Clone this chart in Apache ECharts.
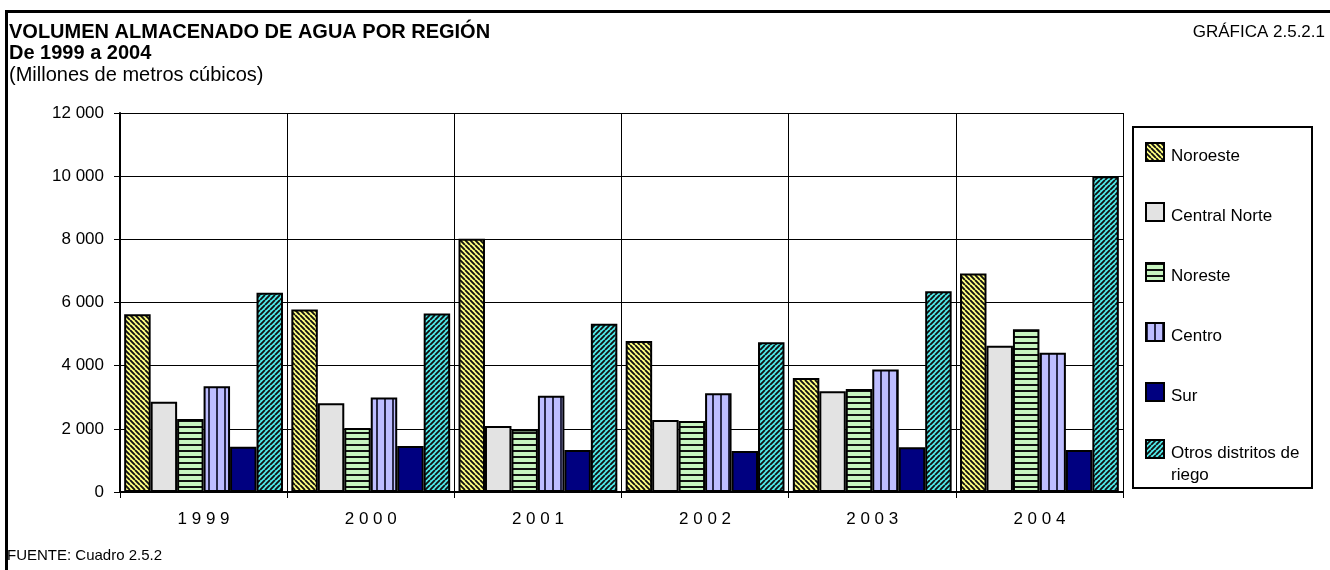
<!DOCTYPE html>
<html>
<head>
<meta charset="utf-8">
<script src="https://cdn.jsdelivr.net/npm/echarts@6/dist/echarts.min.js"></script>
<style>
html,body{margin:0;padding:0;background:#fff;}
#chart{width:1330px;height:570px;}
</style>
</head>
<body>
<div id="chart"></div>
<script>
// ---- data ----
const years = ['1999', '2000', '2001', '2002', '2003', '2004'];
const seriesNames = ['Noroeste', 'Central Norte', 'Noreste', 'Centro', 'Sur', 'Otros distritos de riego'];
const noroeste     = [5630, 5780, 8020, 4780, 3610, 6920];
const centralNorte = [2860, 2810, 2090, 2280, 3190, 4630];
const noreste      = [2310, 2030, 1980, 2245, 3265, 5150];
const centro       = [3350, 2995, 3050, 3125, 3880, 4410];
const sur          = [1430, 1455, 1330, 1300, 1415, 1330];
const otros        = [6310, 5655, 5330, 4745, 6355, 10000];
const yTicks = [0, 2000, 4000, 6000, 8000, 10000, 12000];

// ---- patterns ----
function diag(bg, fg, dir, size, lw) {
  const c = document.createElement('canvas');
  c.width = size; c.height = size;
  const g = c.getContext('2d');
  g.fillStyle = bg; g.fillRect(0, 0, size, size);
  g.strokeStyle = fg; g.lineWidth = lw;
  g.beginPath();
  for (let k = -1; k <= 1; k++) {
    if (dir > 0) { g.moveTo(k * size, 0); g.lineTo(k * size + size, size); }
    else { g.moveTo(k * size, size); g.lineTo(k * size + size, 0); }
  }
  g.stroke();
  return { image: c, repeat: 'repeat' };
}
function hstripe(bg, fg, period, band) {
  const c = document.createElement('canvas');
  c.width = 4; c.height = period;
  const g = c.getContext('2d');
  g.fillStyle = bg; g.fillRect(0, 0, 4, period);
  g.fillStyle = fg; g.fillRect(0, 0, 4, band);
  return { image: c, repeat: 'repeat' };
}
function vstripe(bg, fg, period, band) {
  const c = document.createElement('canvas');
  c.width = period; c.height = 4;
  const g = c.getContext('2d');
  g.fillStyle = bg; g.fillRect(0, 0, period, 4);
  g.fillStyle = fg; g.fillRect(0, 0, band, 4);
  return { image: c, repeat: 'repeat' };
}

const fills = [
  diag('#FFFF80', '#111111', 1, 5, 1.9),
  '#E3E3E3',
  hstripe('#C8F5C0', '#111111', 6, 2),
  vstripe('#BDBDFF', '#2a2a4a', 8, 2),
  '#000080',
  diag('#4FEAEA', '#111111', -1, 5, 1.9)
];
const values = [noroeste, centralNorte, noreste, centro, sur, otros];

const FONT = '"Liberation Sans", Arial, sans-serif';

const chart = echarts.init(document.getElementById('chart'), null, { renderer: 'canvas' });

const series = seriesNames.map((name, i) => ({
  name: name,
  type: 'bar',
  data: values[i],
  barGap: '0%',
  barCategoryGap: '5%',
  itemStyle: { color: fills[i], borderColor: '#000', borderWidth: 2 },
  emphasis: { disabled: true }
}));

const legendRich = {
  a: { fontFamily: FONT, fontSize: 17, color: '#000', lineHeight: 22, padding: [0, 0, 0, 2] },
  s8: { fontSize: 1, height: 8, lineHeight: 8 },
  s30: { fontSize: 1, height: 30, lineHeight: 30 }
};
const legendBase = {
  orient: 'vertical',
  left: 1145,
  padding: 0,
  itemWidth: 18,
  itemHeight: 18,
  icon: 'rect',
  selectedMode: false
};

const option = {
  animation: false,
  backgroundColor: '#fff',
  textStyle: { fontFamily: FONT, color: '#000' },
  title: [
    { text: 'VOLUMEN ALMACENADO DE AGUA POR REGIÓN', left: 9, top: 22, padding: 0,
      textStyle: { fontFamily: FONT, fontSize: 20, fontWeight: 'bold', color: '#000' } },
    { text: 'De 1999 a 2004', left: 9, top: 43, padding: 0,
      textStyle: { fontFamily: FONT, fontSize: 20, fontWeight: 'bold', color: '#000' } },
    { text: '(Millones de metros cúbicos)', left: 9, top: 65, padding: 0,
      textStyle: { fontFamily: FONT, fontSize: 20, fontWeight: 'normal', color: '#000' } },
    { text: 'GRÁFICA 2.5.2.1', right: 5, top: 24, padding: 0,
      textStyle: { fontFamily: FONT, fontSize: 17, fontWeight: 'normal', color: '#000' } },
    { text: 'FUENTE: Cuadro 2.5.2', left: 7, top: 548, padding: 0,
      textStyle: { fontFamily: FONT, fontSize: 15, fontWeight: 'normal', color: '#000' } }
  ],
  legend: [
    Object.assign({}, legendBase, {
      top: 137,
      itemGap: 32.5,
      textStyle: { fontFamily: FONT, fontSize: 17, color: '#000', rich: legendRich },
      data: seriesNames.slice(0, 5),
      formatter: n => '{s8| }\n{a|' + n + '}'
    }),
    Object.assign({}, legendBase, {
      top: 412,
      itemGap: 0,
      textStyle: { fontFamily: FONT, fontSize: 17, color: '#000', rich: legendRich },
      data: seriesNames.slice(5),
      formatter: n => '{s30| }\n{a|' + n.replace(' riego', '}\n{a|riego') + '}'
    })
  ],
  grid: { left: 120, right: 207, top: 113, bottom: 78, containLabel: false },
  xAxis: {
    type: 'category',
    data: years,
    boundaryGap: true,
    axisLine: { show: true, lineStyle: { color: '#000', width: 2 } },
    axisTick: { show: true, length: 6, lineStyle: { color: '#000', width: 1 } },
    axisLabel: { margin: 19, fontFamily: FONT, fontSize: 17, color: '#000',
      formatter: s => s.split('').join(' ') },
    splitLine: { show: true, lineStyle: { color: '#000', width: 1 } }
  },
  yAxis: {
    type: 'value',
    min: yTicks[0],
    max: yTicks[yTicks.length - 1],
    interval: 2000,
    axisLine: { show: true, lineStyle: { color: '#000', width: 2 } },
    axisTick: { show: true, length: 6, lineStyle: { color: '#000', width: 1 } },
    axisLabel: { margin: 16, fontFamily: FONT, fontSize: 17, color: '#000',
      formatter: v => String(v).replace(/\B(?=(\d{3})+(?!\d))/g, ' ') },
    splitLine: { show: true, lineStyle: { color: '#000', width: 1 } }
  },
  graphic: [
    { type: 'rect', shape: { x: 1133, y: 127, width: 179, height: 361 },
      style: { fill: 'none', stroke: '#000', lineWidth: 2 }, silent: true, z: -1 },
    { type: 'line', shape: { x1: 5, y1: 11.5, x2: 1330, y2: 11.5 },
      style: { stroke: '#000', lineWidth: 3 }, silent: true },
    { type: 'line', shape: { x1: 6.5, y1: 10, x2: 6.5, y2: 570 },
      style: { stroke: '#000', lineWidth: 3 }, silent: true }
  ],
  series: series
};
chart.setOption(option);
</script>
</body>
</html>
